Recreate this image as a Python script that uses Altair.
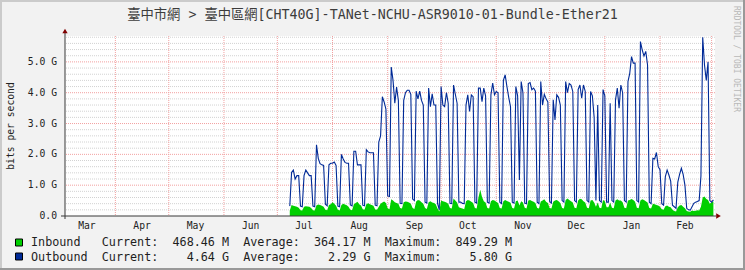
import altair as alt
import pandas as pd
import datetime as dt

# ---------------- data ----------------
title_text = "臺中市網 > 臺中區網[CHT40G]-TANet-NCHU-ASR9010-01-Bundle-Ether21"
first_day = "2023-07-08"

# daily outbound (Gbit/s), first value is a weekend day, then weeks Mon..Sun
outbound_g = [
    0.32,
    1.41, 1.49, 1.20, 1.31, 1.31, 0.32, 0.30,
    1.31, 1.49, 1.40, 1.31, 1.31, 0.32, 0.30,
    2.31, 1.87, 1.70, 1.66, 1.64, 0.38, 0.33,
    1.66, 1.71, 1.71, 1.75, 1.64, 0.32, 0.30,
    2.00, 1.85, 1.74, 1.71, 1.71, 0.36, 0.33,
    2.10, 2.10, 1.66, 1.66, 1.66, 0.35, 0.33,
    2.15, 2.08, 2.05, 2.05, 2.05, 0.35, 0.33,
    2.40, 2.60, 3.87, 3.70, 3.47, 0.65, 0.63,
    4.83, 4.40, 3.66, 4.18, 3.75, 0.41, 0.40,
    3.75, 4.00, 4.08, 4.08, 3.95, 0.55, 0.50,
    4.05, 3.80, 4.05, 3.75, 3.60, 0.45, 0.42,
    4.15, 3.55, 3.96, 3.60, 3.60, 0.41, 0.20,
    4.20, 3.60, 3.55, 4.00, 3.66, 0.41, 0.40,
    4.25, 3.95, 3.66, 0.45, 0.45, 0.41, 0.40,
    3.60, 3.93, 3.39, 3.93, 3.87, 0.45, 0.42,
    4.15, 4.15, 3.71, 4.15, 3.90, 0.45, 0.42,
    3.93, 4.31, 3.93, 4.04, 4.00, 0.45, 0.40,
    4.40, 4.58, 4.20, 3.85, 3.55, 0.45, 0.42,
    4.20, 3.90, 1.17, 4.36, 4.00, 0.42, 0.40,
    4.30, 4.33, 4.10, 4.15, 4.05, 0.45, 0.40,
    4.36, 3.60, 3.95, 3.80, 3.70, 0.47, 0.42,
    3.77, 3.12, 3.93, 3.85, 3.60, 0.50, 0.45,
    4.36, 4.00, 4.30, 4.25, 4.04, 0.50, 0.45,
    4.10, 4.25, 3.82, 4.25, 4.04, 0.50, 0.45,
    4.04, 3.90, 3.20, 0.50, 3.60, 0.50, 0.45,
    4.10, 3.90, 0.45, 0.45, 3.66, 0.50, 0.45,
    3.77, 4.15, 3.50, 4.25, 4.00, 0.50, 0.45,
    4.36, 4.63, 5.17, 4.96, 4.96, 0.50, 0.45,
    5.66, 5.39, 5.19, 5.34, 4.90, 0.45, 0.40,
    1.87, 1.85, 2.06, 1.60, 1.50, 0.40, 0.35,
    1.28, 1.49, 1.33, 1.13, 0.35, 0.30, 0.25,
    1.10, 1.35, 1.55, 1.35, 1.00, 0.25, 0.20,
    0.19, 0.30, 0.41, 0.45, 0.47, 0.50, 1.30,
    5.80, 4.90, 4.40, 5.00, 0.50, 0.45, 0.52,
]

# daily inbound (Gbit/s)
inbound_g = [
    0.18,
    0.36, 0.33, 0.32, 0.30, 0.27, 0.19, 0.18,
    0.30, 0.32, 0.31, 0.30, 0.26, 0.19, 0.18,
    0.35, 0.37, 0.36, 0.33, 0.30, 0.20, 0.19,
    0.36, 0.38, 0.45, 0.40, 0.33, 0.20, 0.18,
    0.36, 0.40, 0.37, 0.35, 0.30, 0.20, 0.19,
    0.38, 0.42, 0.46, 0.38, 0.34, 0.22, 0.20,
    0.38, 0.41, 0.38, 0.36, 0.33, 0.21, 0.20,
    0.30, 0.40, 0.44, 0.47, 0.42, 0.25, 0.22,
    0.54, 0.50, 0.45, 0.42, 0.40, 0.26, 0.24,
    0.45, 0.47, 0.46, 0.44, 0.40, 0.26, 0.23,
    0.47, 0.52, 0.50, 0.45, 0.40, 0.26, 0.23,
    0.45, 0.48, 0.44, 0.42, 0.38, 0.24, 0.15,
    0.50, 0.48, 0.46, 0.44, 0.40, 0.26, 0.24,
    0.57, 0.50, 0.44, 0.28, 0.26, 0.24, 0.22,
    0.48, 0.52, 0.50, 0.46, 0.42, 0.26, 0.24,
    0.60, 0.85, 0.62, 0.48, 0.44, 0.26, 0.24,
    0.48, 0.52, 0.50, 0.46, 0.42, 0.26, 0.24,
    0.48, 0.52, 0.49, 0.46, 0.43, 0.26, 0.24,
    0.48, 0.50, 0.34, 0.48, 0.44, 0.27, 0.24,
    0.50, 0.52, 0.49, 0.46, 0.42, 0.26, 0.24,
    0.47, 0.50, 0.54, 0.46, 0.42, 0.26, 0.24,
    0.46, 0.50, 0.52, 0.48, 0.42, 0.26, 0.24,
    0.52, 0.57, 0.52, 0.48, 0.44, 0.27, 0.25,
    0.50, 0.56, 0.54, 0.48, 0.44, 0.27, 0.25,
    0.50, 0.52, 0.44, 0.30, 0.44, 0.27, 0.25,
    0.52, 0.48, 0.28, 0.28, 0.44, 0.27, 0.25,
    0.50, 0.54, 0.50, 0.50, 0.45, 0.27, 0.25,
    0.50, 0.52, 0.55, 0.52, 0.46, 0.27, 0.25,
    0.50, 0.54, 0.52, 0.48, 0.44, 0.26, 0.24,
    0.40, 0.38, 0.36, 0.34, 0.30, 0.22, 0.20,
    0.32, 0.34, 0.30, 0.28, 0.20, 0.16, 0.15,
    0.28, 0.34, 0.36, 0.30, 0.25, 0.16, 0.15,
    0.14, 0.18, 0.16, 0.17, 0.19, 0.18, 0.30,
    0.60, 0.63, 0.55, 0.52, 0.40, 0.45, 0.47,
]

month_starts = ["2023-04-01", "2023-05-01", "2023-06-01", "2023-07-01",
                "2023-08-01", "2023-09-01", "2023-10-01", "2023-11-01",
                "2023-12-01", "2024-01-01", "2024-02-01", "2024-03-01"]
month_label_dates = ["2023-03-16", "2023-04-16", "2023-05-16", "2023-06-16",
                     "2023-07-16", "2023-08-16", "2023-09-16", "2023-10-16",
                     "2023-11-16", "2023-12-16", "2024-01-16", "2024-02-15"]
month_labels = ["Mar", "Apr", "May", "Jun", "Jul", "Aug",
                "Sep", "Oct", "Nov", "Dec", "Jan", "Feb"]
y_ticks = [0, 1, 2, 3, 4, 5]
y_tick_labels = ["0.0", "1.0 G", "2.0 G", "3.0 G", "4.0 G", "5.0 G"]
y_minor = [0.2, 0.4, 0.6, 0.8, 1.2, 1.4, 1.6, 1.8, 2.2, 2.4, 2.6, 2.8,
           3.2, 3.4, 3.6, 3.8, 4.2, 4.4, 4.6, 4.8, 5.2, 5.4, 5.6, 5.8]
y_major = [1, 2, 3, 4, 5]

series_names = ["Inbound", "Outbound"]
stat_current = ["468.46 M", "4.64 G"]
stat_average = ["364.17 M", "2.29 G"]
stat_maximum = ["849.29 M", "5.80 G"]
series_colors = ["#00CF00", "#002A97"]
watermark = "RRDTOOL / TOBI OETIKER"
y_title = "bits per second"

# ---------------- helpers ----------------
base = dt.date(2023, 3, 1)


def day_no(s):
    return (dt.date.fromisoformat(s) - base).days


start_no = day_no(first_day)
df = pd.DataFrame({
    "day": [start_no + i for i in range(len(outbound_g))],
    "out": outbound_g,
    "inb": inbound_g,
})
vgrid = pd.DataFrame({"day": [day_no(s) for s in month_starts]})
mlab = pd.DataFrame({"day": [day_no(s) for s in month_label_dates], "label": month_labels})
hminor = pd.DataFrame({"g": y_minor})
hmajor = pd.DataFrame({"g": y_major})
yt = pd.DataFrame({"g": y_ticks, "label": y_tick_labels})

W, H = 650, 180
xs = alt.Scale(domain=[2.7, 367.9], nice=False, zero=False)
ys = alt.Scale(domain=[0, 5.84], nice=False, zero=True)
MONO = "DejaVu Sans Mono"
one = pd.DataFrame({"a": [0]})

grid_minor = alt.Chart(hminor).mark_rule(color="#D2D2D2", strokeDash=[1, 1], strokeWidth=1).encode(
    y=alt.Y("g:Q", scale=ys, axis=None))
grid_major = alt.Chart(hmajor).mark_rule(color="#F2A0A0", strokeDash=[1, 1], strokeWidth=1).encode(
    y=alt.Y("g:Q", scale=ys, axis=None))
grid_v = alt.Chart(vgrid).mark_rule(color="#F2A0A0", strokeDash=[1, 1], strokeWidth=1).encode(
    x=alt.X("day:Q", scale=xs, axis=None))

ylabels = alt.Chart(yt).mark_text(font=MONO, fontSize=9.7, color="#222222",
                                  align="right", baseline="middle").encode(
    x=alt.value(-8), y=alt.Y("g:Q", scale=ys, axis=None), text="label:N")

area = alt.Chart(df).mark_area(color=series_colors[0], interpolate="linear").encode(
    x=alt.X("day:Q", scale=xs, axis=None),
    y=alt.Y("inb:Q", scale=ys, axis=None))
line = alt.Chart(df).mark_line(color=series_colors[1], strokeWidth=1.1, interpolate="linear").encode(
    x=alt.X("day:Q", scale=xs, axis=None),
    y=alt.Y("out:Q", scale=ys, axis=None))

axis_col = "#383838"
xline = alt.Chart(one).mark_rule(color=axis_col, strokeWidth=1).encode(
    x=alt.value(-4), x2=alt.value(W + 1), y=alt.value(H))
yline = alt.Chart(one).mark_rule(color=axis_col, strokeWidth=1).encode(
    x=alt.value(0), y=alt.value(-3), y2=alt.value(H + 3))
arrow_r = alt.Chart(one).mark_point(shape="triangle-right", filled=True, color="#800000",
                                    size=28, opacity=1).encode(x=alt.value(W + 3.5), y=alt.value(H))
arrow_u = alt.Chart(one).mark_point(shape="triangle-up", filled=True, color="#800000",
                                    size=28, opacity=1).encode(x=alt.value(0), y=alt.value(-5))

months = alt.Chart(mlab).mark_text(font=MONO, fontSize=9.7, color="#222222",
                                   align="center", baseline="middle").encode(
    x=alt.X("day:Q", scale=xs, axis=None), y=alt.value(H + 10), text="label:N")

title = alt.Chart(pd.DataFrame({"t": [title_text]})).mark_text(
    font=MONO + ", Noto Sans CJK TC", fontSize=13.3, color="#3C3C3C",
    align="center", baseline="middle").encode(
    x=alt.value(372.5 - 65), y=alt.value(14.5 - 36), text="t:N")

ytitle = alt.Chart(pd.DataFrame({"t": [y_title]})).mark_text(
    font=MONO, fontSize=9.7, color="#222222", angle=270,
    align="center", baseline="middle").encode(
    x=alt.value(10.5 - 65), y=alt.value(126 - 36), text="t:N")

wmark = alt.Chart(pd.DataFrame({"t": [watermark]})).mark_text(
    font=MONO, fontSize=8, color="#B8B8B8", angle=90,
    align="center", baseline="middle").encode(
    x=alt.value(736 - 65), y=alt.value(59 - 36), text="t:N")

NB = "\u00a0"


def legend_line(name, cur, avg, mx):
    s = (name.ljust(10) + "Current:" + cur.rjust(10) + "  Average:" + avg.rjust(10)
         + "  Maximum:" + mx.rjust(10))
    return s.replace(" ", NB)


leg_df = pd.DataFrame({
    "t": [legend_line(series_names[i], stat_current[i], stat_average[i], stat_maximum[i])
          for i in range(2)],
    "yy": [242 - 36, 256.5 - 36],
    "y0": [239 - 36, 253 - 36],
    "y1": [246 - 36, 260 - 36],
    "c": series_colors,
})
leg_text = alt.Chart(leg_df).mark_text(font=MONO, fontSize=11.75, color="#1E1E1E",
                                       align="left", baseline="middle").encode(
    x=alt.value(31 - 65), y=alt.Y("yy:Q", scale=None, axis=None), text="t:N")
leg_box = alt.Chart(leg_df).mark_rect(stroke="#000000", strokeWidth=1).encode(
    x=alt.value(15.5 - 65), x2=alt.value(22.5 - 65),
    y=alt.Y("y0:Q", scale=None, axis=None), y2=alt.Y2("y1:Q"),
    color=alt.Color("c:N", scale=None, legend=None))

# frame
frame_top = alt.Chart(one).mark_rule(color="#CBCBCB", strokeWidth=2).encode(
    x=alt.value(-65), x2=alt.value(680), y=alt.value(-35))
frame_left = alt.Chart(one).mark_rule(color="#CBCBCB", strokeWidth=2).encode(
    x=alt.value(-64), y=alt.value(-36), y2=alt.value(234))
frame_bottom = alt.Chart(one).mark_rule(color="#999999", strokeWidth=2).encode(
    x=alt.value(-65), x2=alt.value(680), y=alt.value(233))
frame_right = alt.Chart(one).mark_rule(color="#999999", strokeWidth=2).encode(
    x=alt.value(679), y=alt.value(-36), y2=alt.value(234))

chart = alt.layer(
    grid_minor, grid_major, grid_v, area, line, ylabels,
    xline, yline, arrow_r, arrow_u, months, title, ytitle, wmark,
    leg_box, leg_text, frame_top, frame_left, frame_bottom, frame_right,
).properties(
    width=W, height=H,
    padding={"left": 65, "top": 36, "right": 30, "bottom": 54},
    autosize="none",
    background="#F2F2F2",
).configure_view(stroke=None, fill="#FFFFFF")

chart.save("out.html", embed_options={"renderer": "svg", "actions": False})
